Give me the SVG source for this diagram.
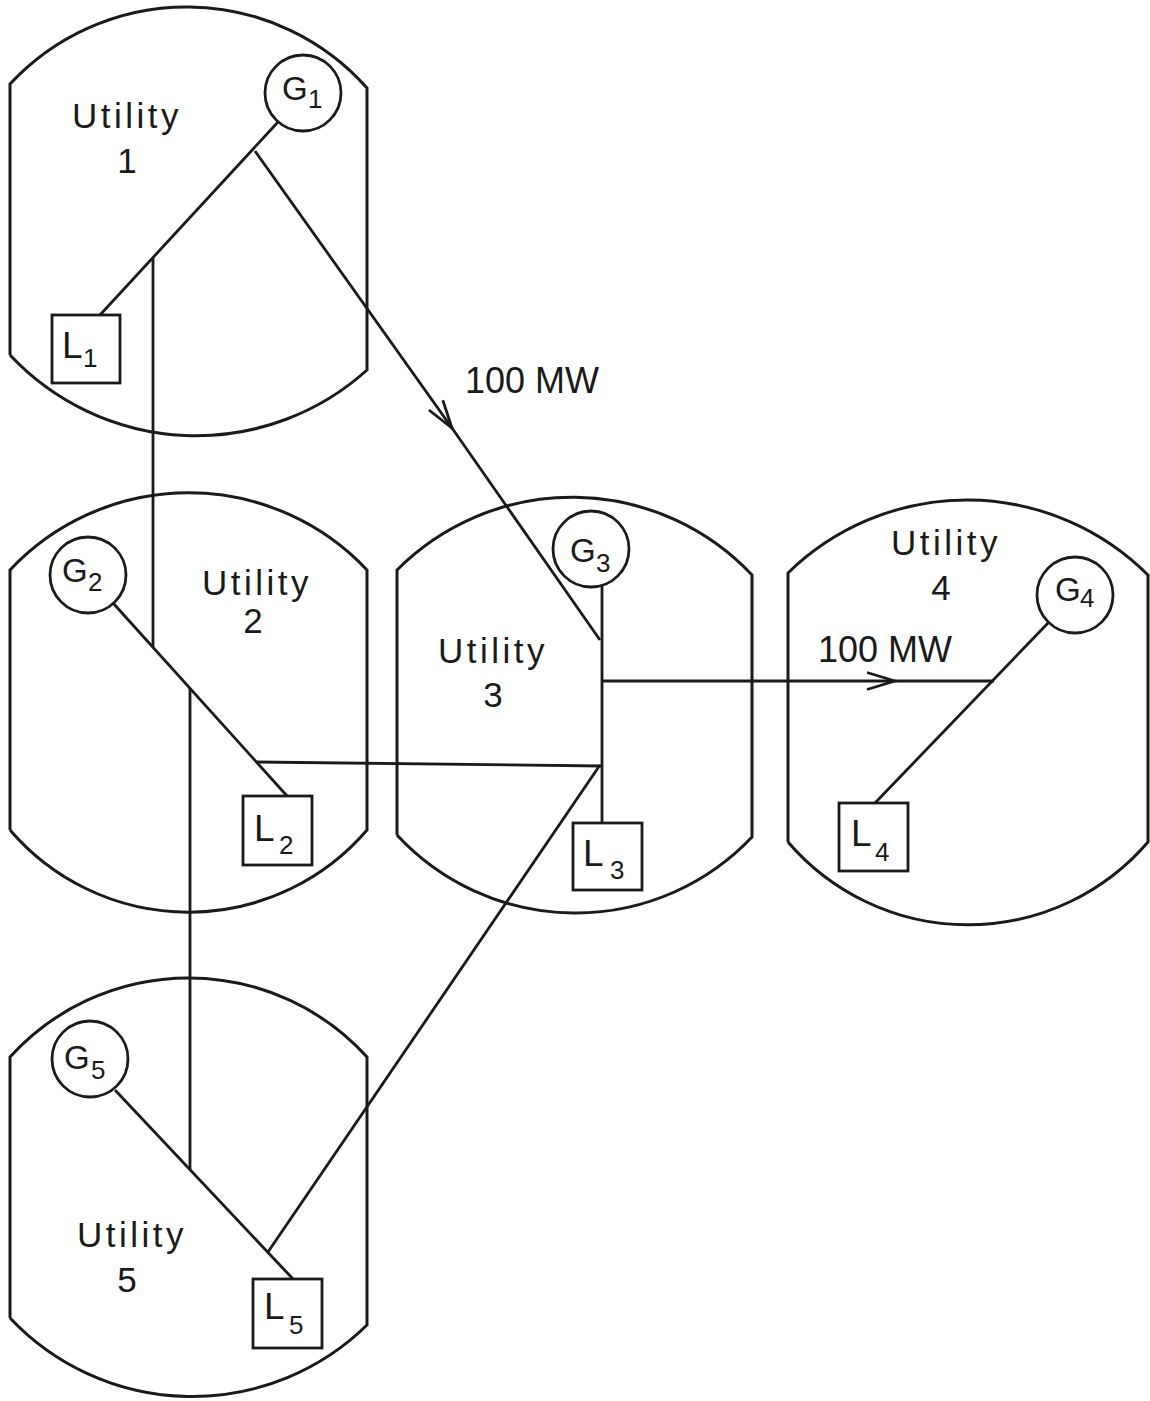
<svg xmlns="http://www.w3.org/2000/svg" width="1150" height="1401" viewBox="0 0 1150 1401">
<style>
.bnd{fill:none;stroke:#1a1a1a;stroke-width:3}
.gen{fill:#fff;stroke:#1a1a1a;stroke-width:2.8}
.ld{fill:#fff;stroke:#1a1a1a;stroke-width:2.8}
.cn{fill:none;stroke:#1a1a1a;stroke-width:2.8}
text{font-family:"Liberation Sans","DejaVu Sans",sans-serif;fill:#1a1a1a}
.ut{font-size:35px;letter-spacing:3.5px}
.num{font-size:35px;text-anchor:middle}
.big{font-size:33px}
.sub{font-size:26px}
.lb{font-size:37px}
.mw{font-size:36px}
</style>
<defs>
<marker id="arr" viewBox="-30 -15 32 30" refX="0" refY="0" markerWidth="32" markerHeight="30" markerUnits="userSpaceOnUse" orient="auto">
<path d="M-28,-8.5 L0,0 L-28,8.5" fill="none" stroke="#1a1a1a" stroke-width="2.8"/>
</marker>
</defs>
<rect width="1150" height="1401" fill="#fff"/>

<g id="utility1">
<path class="bnd" d="M10,355 L10,84 A241,241 0 0 1 367,88 L367,370 A255,255 0 0 1 10,355"/>
<text class="ut" x="72" y="128">Utility</text>
<text class="num" x="127" y="173">1</text>
</g>
<g id="utility2">
<path class="bnd" d="M10,830 L10,570 A245,245 0 0 1 367,570 L367,830 A235,235 0 0 1 10,830"/>
<text class="ut" x="202" y="595">Utility</text>
<text class="num" x="253" y="633">2</text>
</g>
<g id="utility3">
<path class="bnd" d="M397,835 L397,570 A247,247 0 0 1 752,575 L752,837 A243,243 0 0 1 397,835"/>
<text class="ut" x="438" y="663">Utility</text>
<text class="num" x="493" y="707">3</text>
</g>
<g id="utility4">
<path class="bnd" d="M788,842 L788,573 A256,256 0 0 1 1148,575 L1148,842 A237,237 0 0 1 788,842"/>
<text class="ut" x="891" y="555">Utility</text>
<text class="num" x="941" y="600">4</text>
</g>
<g id="utility5">
<path class="bnd" d="M10,1318 L10,1057 A241,241 0 0 1 367,1057 L367,1325 A250,250 0 0 1 10,1318"/>
<text class="ut" x="77" y="1247">Utility</text>
<text class="num" x="127" y="1292">5</text>
</g>

<g id="connectors">
<path class="cn" d="M278,122 L100,315"/>
<path class="cn" d="M255,151 L452,428 L600,640" marker-mid="url(#arr)"/>
<path class="cn" d="M153,258 L153,647"/>
<path class="cn" d="M113,603 L288,797"/>
<path class="cn" d="M190,688 L190,1170"/>
<path class="cn" d="M256,762 L602,766"/>
<path class="cn" d="M602,585 L602,823"/>
<path class="cn" d="M602,681 L895,681 L994,681" marker-mid="url(#arr)"/>
<path class="cn" d="M1049,622 L875,803"/>
<path class="cn" d="M600,765 L268,1252"/>
<path class="cn" d="M115,1090 L293,1279"/>
</g>

<g id="G1"><circle class="gen" cx="303" cy="93" r="38"/><text class="big" x="282" y="100">G</text><text class="sub" x="308" y="108">1</text></g>
<g id="L1"><rect class="ld" x="52" y="315" width="68" height="68"/><text class="lb" x="62" y="358">L</text><text class="sub" x="83" y="367">1</text></g>
<g id="G2"><circle class="gen" cx="88" cy="575" r="38"/><text class="big" x="62" y="582">G</text><text class="sub" x="88" y="591">2</text></g>
<g id="L2"><rect class="ld" x="243" y="796" width="69" height="69"/><text class="lb" x="254" y="841">L</text><text class="sub" x="279" y="854">2</text></g>
<g id="G3"><circle class="gen" cx="591" cy="549" r="38"/><text class="big" x="570" y="562">G</text><text class="sub" x="596" y="572">3</text></g>
<g id="L3"><rect class="ld" x="573" y="823" width="69" height="67"/><text class="lb" x="583" y="866">L</text><text class="sub" x="610" y="879">3</text></g>
<g id="G4"><circle class="gen" cx="1075" cy="595" r="38"/><text class="big" x="1055" y="601">G</text><text class="sub" x="1080" y="607">4</text></g>
<g id="L4"><rect class="ld" x="839" y="803" width="69" height="68"/><text class="lb" x="851" y="846">L</text><text class="sub" x="875" y="861">4</text></g>
<g id="G5"><circle class="gen" cx="90" cy="1059" r="38"/><text class="big" x="64" y="1069">G</text><text class="sub" x="91" y="1079">5</text></g>
<g id="L5"><rect class="ld" x="253" y="1279" width="69" height="69"/><text class="lb" x="264" y="1319">L</text><text class="sub" x="289" y="1334">5</text></g>

<g id="labels">
<text class="mw" x="465" y="393">100 MW</text>
<text class="mw" x="818" y="662">100 MW</text>
</g>
</svg>
